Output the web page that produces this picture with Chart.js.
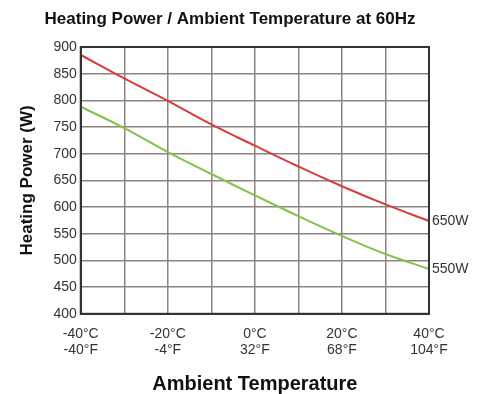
<!DOCTYPE html>
<html>
<head>
<meta charset="utf-8">
<script src="https://cdn.jsdelivr.net/npm/chart.js@4/dist/chart.umd.min.js"></script>
<style>
  html, body { margin: 0; padding: 0; background: #fff; }
  #wrap { width: 484px; height: 394px; }
</style>
</head>
<body>
<div id="wrap"><canvas id="heatChart"></canvas></div>
<script>
// Ambient temperature steps (°C), one per grid column
const temps = ["-40", "-30", "-20", "-10", "0", "10", "20", "30", "40"];
// Labels shown under every second grid line
const labelsC = ["-40°C", "-20°C", "0°C", "20°C", "40°C"];
const labelsF = ["-40°F", "-4°F", "32°F", "68°F", "104°F"];

// Heating power (W)
const power650 = [885, 841, 799, 755, 715, 676, 639, 605, 574];
const power550 = [788, 748, 703, 662, 622, 583, 546, 512, 484];
const seriesNames = ["650W", "550W"];

const textColor = "#333";
const gridColor = "#8c8383";

// title drawn a bit left of canvas centre like the original
const titlePlugin = {
    id: "topTitle",
    afterDraw(chart) {
        const ctx = chart.ctx;
        ctx.save();
        ctx.font = "bold 17px 'Liberation Sans', Arial, sans-serif";
        ctx.fillStyle = "#111";
        ctx.textAlign = "center";
        ctx.textBaseline = "middle";
        ctx.fillText("Heating Power / Ambient Temperature at 60Hz", 230, 19);
        ctx.restore();
    }
};

// dark frame round the plot area
const framePlugin = {
    id: "frame",
    afterDatasetsDraw(chart) {
        const a = chart.chartArea;
        const ctx = chart.ctx;
        ctx.save();
        ctx.strokeStyle = "#333";
        ctx.lineWidth = 2;
        ctx.strokeRect(a.left, a.top, a.right - a.left, a.bottom - a.top);
        ctx.restore();
    }
};

// series names at the end of each curve
const endLabels = {
    id: "endLabels",
    afterDatasetsDraw(chart) {
        const ctx = chart.ctx;
        ctx.save();
        ctx.font = "14px 'Liberation Sans', Arial, sans-serif";
        ctx.fillStyle = textColor;
        ctx.textAlign = "left";
        ctx.textBaseline = "middle";
        chart.data.datasets.forEach((ds, i) => {
            const pts = chart.getDatasetMeta(i).data;
            const last = pts[pts.length - 1];
            ctx.fillText(seriesNames[i], last.x + 3, last.y);
        });
        ctx.restore();
    }
};

new Chart(document.getElementById("heatChart"), {
    type: "line",
    data: {
        labels: temps,
        datasets: [{
            label: seriesNames[0],
            data: power650,
            borderColor: "#da3b3b",
            borderWidth: 2,
            pointRadius: 0,
            tension: 0.4
        }, {
            label: seriesNames[1],
            data: power550,
            borderColor: "#84c24a",
            borderWidth: 2,
            pointRadius: 0,
            tension: 0.4
        }]
    },
    options: {
        responsive: true,
        maintainAspectRatio: false,
        animation: false,
        layout: { padding: { top: 47, right: 55, left: 17, bottom: -2 } },
        plugins: {
            legend: { display: false },
            tooltip: { enabled: false }
        },
        scales: {
            x: {
                offset: false,
                grid: { color: gridColor, lineWidth: 1.5, drawTicks: false },
                border: { color: "#333", width: 2 },
                ticks: {
                    autoSkip: false,
                    maxRotation: 0,
                    padding: 12,
                    color: textColor,
                    font: { family: "'Liberation Sans', Arial, sans-serif", size: 14, lineHeight: 1.15 },
                    callback: (v, i) => i % 2 === 0 ? [labelsC[i / 2], labelsF[i / 2]] : ""
                },
                title: {
                    display: true,
                    text: "Ambient Temperature",
                    color: "#111",
                    font: { family: "'Liberation Sans', Arial, sans-serif", size: 20, weight: "bold" },
                    padding: { top: 2, bottom: 0 }
                }
            },
            y: {
                min: 400,
                max: 900,
                grid: { color: gridColor, lineWidth: 1.5, drawTicks: false },
                border: { color: "#333", width: 2 },
                ticks: {
                    stepSize: 50,
                    padding: 4,
                    color: textColor,
                    font: { family: "'Liberation Sans', Arial, sans-serif", size: 14 }
                },
                title: {
                    display: true,
                    text: "Heating Power (W)",
                    color: "#111",
                    font: { family: "'Liberation Sans', Arial, sans-serif", size: 17, weight: "bold" },
                    padding: { top: 0, bottom: 12 }
                }
            }
        }
    },
    plugins: [titlePlugin, framePlugin, endLabels]
});
</script>
</body>
</html>
